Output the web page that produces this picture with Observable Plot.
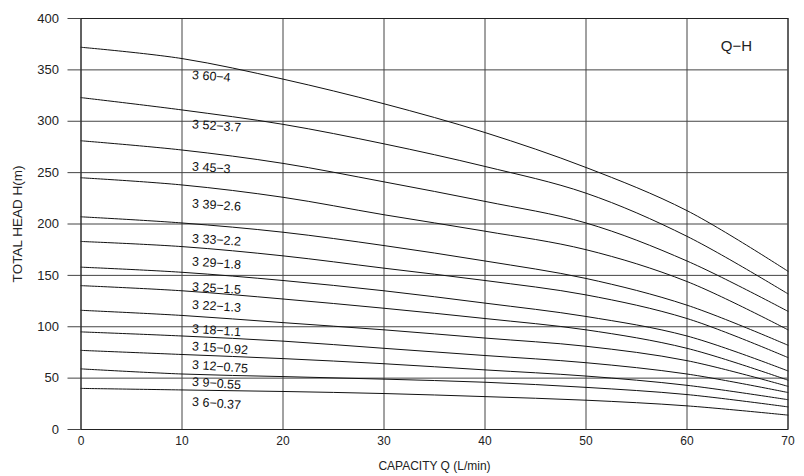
<!DOCTYPE html>
<html>
<head>
<meta charset="utf-8">
<script src="https://cdn.jsdelivr.net/npm/d3@7"></script>
<script src="https://cdn.jsdelivr.net/npm/@observablehq/plot@0.6"></script>
<style>
  html, body { margin: 0; padding: 0; background: #fff; }
  #chart { width: 804px; height: 476px; }
</style>
</head>
<body>
<div id="chart"></div>
<script>
// Capacity points (L/min)
const capacity = [0, 10, 20, 30, 40, 50, 60, 70];
// Pump models (label text)
const models = ["60−4", "52−3.7", "45−3", "39−2.6", "33−2.2", "29−1.8", "25−1.5", "22−1.3", "18−1.1", "15−0.92", "12−0.75", "9−0.55", "6−0.37"];
// Head (m) for each model at the capacity points
const h60_4   = [372, 361, 341, 317, 289, 255, 213, 154];
const h52_37  = [323, 311, 297, 278, 256, 230, 188, 132];
const h45_3   = [281, 272, 259, 241, 222, 201, 164, 115];
const h39_26  = [245, 238, 226, 209, 193, 175, 144, 97];
const h33_22  = [207, 201, 192, 179, 164, 147, 121, 82];
const h29_18  = [183, 178, 169, 157, 145, 131, 108, 70];
const h25_15  = [158, 153, 145, 135, 123, 110, 91, 57];
const h22_13  = [140, 135, 127, 118, 108, 97, 79, 48];
const h18_11  = [116, 111, 104, 97, 89, 81, 67, 42];
const h15_092 = [95, 91, 86, 79, 72, 65, 54, 36];
const h12_075 = [77, 73, 69, 64, 58, 52, 43, 29];
const h9_055  = [59, 54, 51.5, 49, 46, 41, 34, 22];
const h6_037  = [40, 38.5, 37, 35, 32, 28.5, 23, 14];
const heads = [h60_4, h52_37, h45_3, h39_26, h33_22, h29_18, h25_15, h22_13, h18_11, h15_092, h12_075, h9_055, h6_037];
// Label positions (capacity, head)
const labelQ = 11;
const labelH = [345, 297, 256, 220, 186, 163.5, 139, 121.5, 98, 81, 63, 46.5, 27];
// Axis ticks
const xTicks = [0, 10, 20, 30, 40, 50, 60, 70];
const yTicks = [0, 50, 100, 150, 200, 250, 300, 350, 400];

const rows = [];
models.forEach((m, i) => capacity.forEach((q, j) => rows.push({model: m, q, h: heads[i][j]})));
const labels = models.map((m, i) => ({text: "3 " + m, q: labelQ, h: labelH[i]}));

const chart = Plot.plot({
  width: 804,
  height: 476,
  marginLeft: 80.5,
  marginRight: 16.5,
  marginTop: 18,
  marginBottom: 47,
  style: {fontFamily: "'Liberation Sans', Arial, sans-serif", fontSize: "12px", color: "#222", background: "#fff"},
  x: {domain: [0, 70]},
  y: {domain: [0, 400]},
  marks: [
    Plot.ruleX(xTicks, {stroke: "#444", strokeWidth: 1}),
    Plot.ruleY(yTicks, {stroke: "#444", strokeWidth: 1}),
    Plot.axisY(yTicks, {tickSize: 13, tickPadding: 9, fontSize: 13, stroke: "#444", label: null}),
    Plot.axisX(xTicks, {tickSize: 0, tickPadding: 7, fontSize: 12, label: "CAPACITY Q (L/min)", labelAnchor: "center", labelArrow: "none", labelOffset: 40}),
    Plot.text(["TOTAL HEAD H(m)"], {frameAnchor: "left", textAnchor: "middle", dx: -63, dy: 0, rotate: -90, fontSize: 13.5, fill: "#222"}),
    Plot.line(rows, {x: "q", y: "h", z: "model", curve: "catmull-rom", stroke: "#111", strokeWidth: 1}),
    Plot.text(labels, {x: "q", y: "h", text: "text", textAnchor: "start", rotate: 4, fontSize: 12.5, fill: "#111"}),
    Plot.text(["Q−H"], {frameAnchor: "top-right", dx: -36, dy: 22, fontSize: 15, fill: "#222"}),
    Plot.frame({stroke: "#222", strokeWidth: 1})
  ]
});
document.getElementById("chart").appendChild(chart);
</script>
</body>
</html>
